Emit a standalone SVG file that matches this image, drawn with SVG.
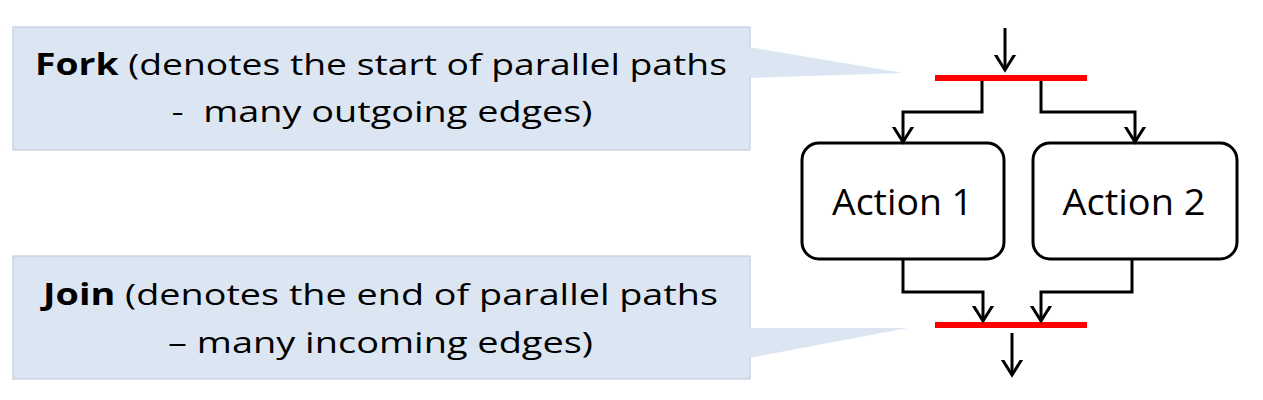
<svg xmlns="http://www.w3.org/2000/svg" width="1263" height="400" viewBox="0 0 1263 400">
<defs>
<style>
.callout{fill:#dce6f2;stroke:#c3cedb;stroke-width:1.2}
.ptr{fill:#dce6f2;stroke:none}
.lbl{font-family:"Open Sans","Liberation Sans",Arial,sans-serif;font-size:30px;fill:#000}
.act{font-family:"Open Sans","Liberation Sans",Arial,sans-serif;font-size:37px;fill:#000}
.node{fill:#fff;stroke:#000;stroke-width:3}
.bar{fill:#ff0000}
.edge{fill:none;stroke:#000;stroke-width:3;marker-end:url(#arr)}
</style>
<marker id="arr" markerUnits="userSpaceOnUse" markerWidth="30" markerHeight="30" viewBox="-15 -15 30 30" refX="0" refY="0" orient="auto">
<path d="M-16,-10 L0,0 L-16,10" fill="none" stroke="#000" stroke-width="3"/>
</marker>
</defs>
<g id="fork-note">
<polygon class="ptr" points="749,47 903,73 749,78"/>
<rect class="callout" x="13" y="27" width="737" height="123"/>
<rect x="749" y="48" width="3" height="29" fill="#dce6f2"/>
<text class="lbl" x="381" y="75" text-anchor="middle" textLength="692" lengthAdjust="spacingAndGlyphs"><tspan font-weight="bold">Fork</tspan> (denotes the start of parallel paths</text>
<text class="lbl" x="382" y="122" text-anchor="middle" textLength="421" lengthAdjust="spacingAndGlyphs" xml:space="preserve">-  many outgoing edges)</text>
</g>
<g id="join-note">
<polygon class="ptr" points="749,328 908,328 749,358"/>
<rect class="callout" x="13" y="256" width="737" height="123"/>
<rect x="749" y="329" width="3" height="28" fill="#dce6f2"/>
<text class="lbl" x="380.5" y="305" text-anchor="middle" textLength="675" lengthAdjust="spacingAndGlyphs"><tspan font-weight="bold">Join</tspan> (denotes the end of parallel paths</text>
<text class="lbl" x="380.5" y="353" text-anchor="middle" textLength="425" lengthAdjust="spacingAndGlyphs">– many incoming edges)</text>
</g>
<g id="fork-bar"><rect class="bar" x="935" y="75" width="152" height="6"/></g>
<g id="join-bar"><rect class="bar" x="935" y="322" width="152" height="6"/></g>
<g id="action1">
<rect class="node" x="802" y="143" width="202" height="116" rx="17"/>
<text class="act" x="902.5" y="215" text-anchor="middle" textLength="141" lengthAdjust="spacingAndGlyphs">Action 1</text>
</g>
<g id="action2">
<rect class="node" x="1033" y="143" width="204" height="116" rx="17"/>
<text class="act" x="1134" y="215" text-anchor="middle" textLength="143" lengthAdjust="spacingAndGlyphs">Action 2</text>
</g>
<g id="connectors">
<path class="edge" d="M1005,28 V70"/>
<path class="edge" d="M982,81 V112 H903 V142"/>
<path class="edge" d="M1041,81 V112 H1135 V142"/>
<path class="edge" d="M903,260 V292 H983 V321"/>
<path class="edge" d="M1132,260 V292 H1041 V321"/>
<path class="edge" d="M1012,333 V375"/>
</g>
</svg>
